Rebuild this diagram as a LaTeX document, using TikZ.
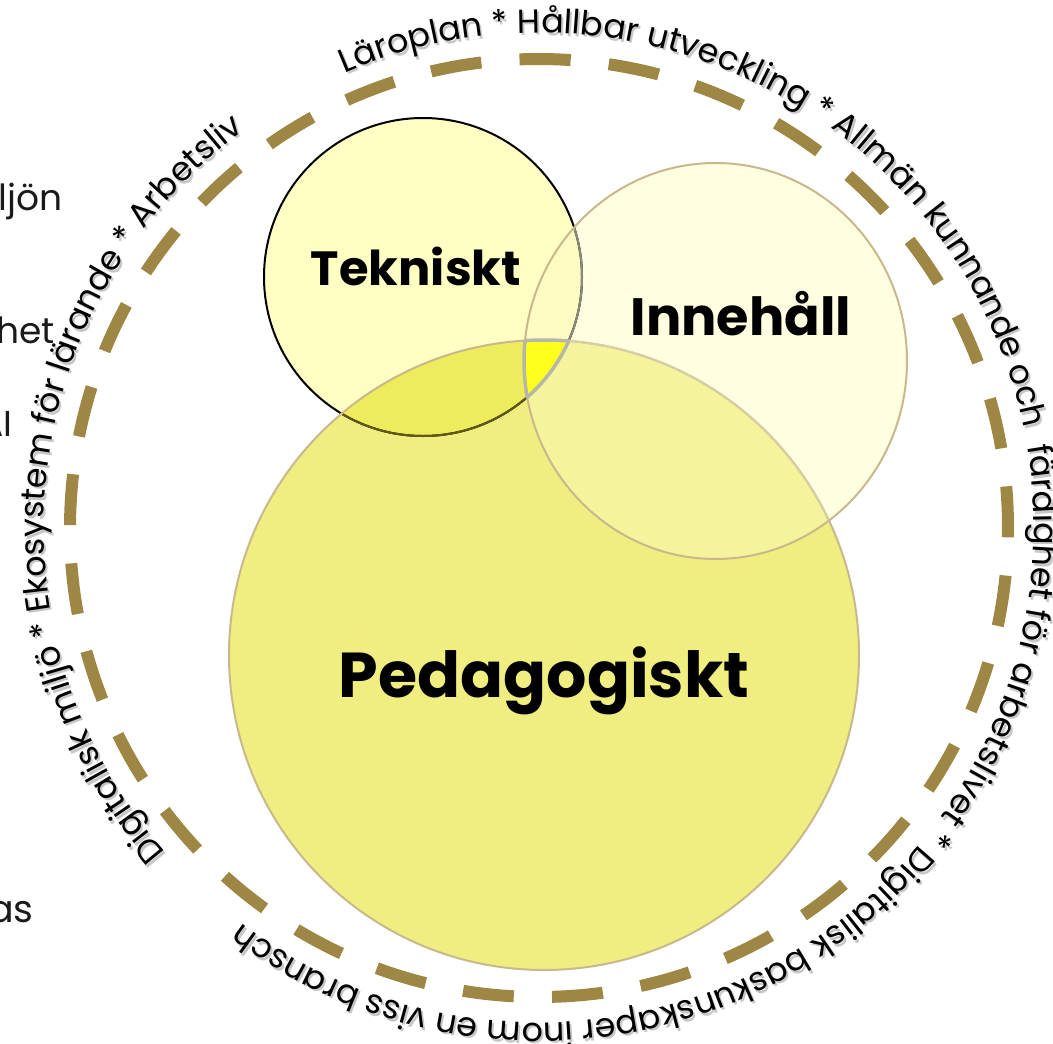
\documentclass[tikz,border=0pt]{standalone}
\usepackage{fontspec}
\setmainfont{Poppins}
\usetikzlibrary{decorations.text}
\definecolor{dashc}{HTML}{9E8644}
\definecolor{tfill}{HTML}{FFFFC4}
\definecolor{ifill}{HTML}{FFFEE0}
\definecolor{pfill}{HTML}{F0EE80}
\definecolor{tifill}{HTML}{FCFCC2}
\definecolor{tpfill}{HTML}{EEEC5C}
\definecolor{ipfill}{HTML}{F5F49C}
\definecolor{trifill}{HTML}{FFFF1E}
\definecolor{tanline}{HTML}{C8B88C}
\definecolor{lighttan}{HTML}{D8CEA4}
\definecolor{olivel}{HTML}{5E5A12}
\definecolor{grayl}{HTML}{8A8A7A}
\definecolor{trigray}{HTML}{B6B6AA}
\definecolor{fragc}{HTML}{1A1A1A}
\newlength\curvewA
\newlength\curvewB
\newcommand\curvetxtA{Digitalisk miljö * Ekosystem för lärande * Arbetsliv}
\newcommand\curvetxtB{Läroplan * Hållbar utveckling * Allmän kunnande och { }färdighet för arbetslivet * Digitalisk baskunskaper inom en viss bransch}
\begin{document}
\settowidth\curvewA{\fontsize{10pt}{12pt}\selectfont\curvetxtA}%
\settowidth\curvewB{\fontsize{10pt}{12pt}\selectfont\curvetxtB}%
\pgfmathsetmacro\cfs{2892/(\curvewA+\curvewB)*10}%
\begin{tikzpicture}[x=1pt,y=1pt,
  lbl/.style={inner sep=0pt, anchor=base, text=black},
  frag/.style={inner sep=0pt, anchor=base east, text=fragc},
  circline/.style={line width=2pt}]
\useasboundingbox (0,0) rectangle (1053,-1044);
\clip (0,0) rectangle (1053,-1044);
\def\Tpath{(423,-277) circle[radius=159]}
\def\Ppath{(544,-655) circle[radius=315]}
\def\Ipath{(715.5,-361) ellipse[x radius=191.5, y radius=198]}
% fills
\fill[tfill] \Tpath;
\fill[ifill] \Ipath;
\fill[pfill] \Ppath;
\begin{scope}\clip \Tpath; \fill[tifill] \Ipath; \end{scope}
\begin{scope}\clip \Tpath; \fill[tpfill] \Ppath; \end{scope}
\begin{scope}\clip \Ipath; \fill[ipfill] \Ppath; \end{scope}
% strokes
\draw[circline, black] \Tpath;
\begin{scope}\clip \Ipath; \draw[circline, grayl] \Tpath; \end{scope}
\begin{scope}\clip \Ppath; \draw[circline, olivel] \Tpath; \end{scope}
\draw[circline, tanline] \Ppath;
\begin{scope}\clip \Ipath; \draw[circline, lighttan] \Ppath; \end{scope}
\draw[circline, tanline] \Ipath;
% triple intersection
\begin{scope}\clip \Tpath; \clip \Ppath; \fill[trifill] \Ipath; \draw[trigray, line width=3.5pt] \Ipath; \end{scope}
\begin{scope}\clip \Tpath; \clip \Ipath; \draw[trigray, line width=3.5pt] \Ppath; \end{scope}
\begin{scope}\clip \Ppath; \clip \Ipath; \draw[trigray, line width=3.5pt] \Tpath; \end{scope}
% labels
\node[lbl, font=\bfseries\fontsize{48}{48}\selectfont] (tek) at (416,-285) {Tekniskt};
\node[lbl, font=\bfseries\fontsize{52.5}{52.5}\selectfont] (inn) at (741,-335) {Innehåll};
\node[lbl, font=\bfseries\fontsize{63.4}{63.4}\selectfont] (ped) at (544,-697) {Pedagogiskt};
% dashed ring
\draw[dashc, line width=12pt, dash pattern=on 51pt off 38.3pt] (539,-528) ++(86.15:469) arc[start angle=86.15, end angle=446.15, radius=469];
% curved text (shadow, then text)
\foreach \col/\dx/\dy in {black!22/2/-2.5, black/0/0}{
\path[decorate, decoration={text along path, text align=left, text color=\col,
  text={|\fontsize{\cfs pt}{\cfs pt}\selectfont|Digitalisk miljö * Ekosystem för lärande * Arbetsliv}}]
  (539+\dx,-528+\dy) ++(221:495) arc[start angle=221, end angle=100, radius=495];
\path[decorate, decoration={text along path, text align=left, text color=\col,
  text={|\fontsize{\cfs pt}{\cfs pt}\selectfont|Läroplan * Hållbar utveckling * Allmän kunnande och { }färdighet för arbetslivet * Digitalisk baskunskaper inom en viss bransch}}]
  (539+\dx,-528+\dy) ++(113.2:495) arc[start angle=113.2, end angle=-140, radius=495];
}
% cut-off fragments at left edge
\node[frag, font=\fontsize{36}{36}\selectfont] (f1) at (63,-210) {ljön};
\node[frag, font=\fontsize{36}{36}\selectfont] (f2) at (55,-343) {het};
\node[frag, font=\fontsize{36}{36}\selectfont] (f3) at (13,-436) {AI};
\node[frag, font=\fontsize{38}{38}\selectfont] (f4) at (34,-922) {as};
\end{tikzpicture}
\end{document}
